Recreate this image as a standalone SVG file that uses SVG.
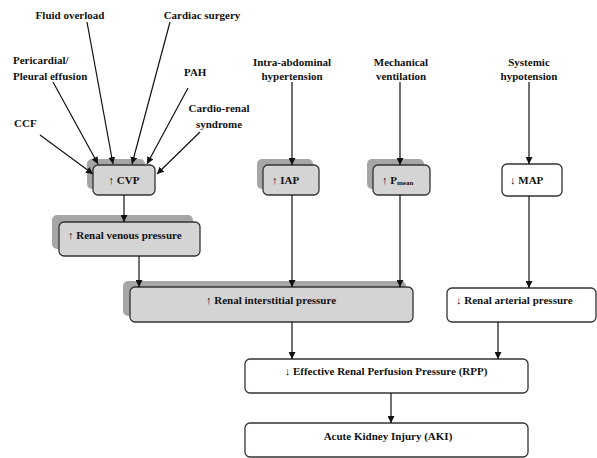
<svg xmlns="http://www.w3.org/2000/svg" width="597" height="458" viewBox="0 0 597 458">
<style>
text{font-family:"Liberation Serif","Times New Roman",serif;font-weight:bold;font-size:11px;fill:#111}
.sh{fill:#a6a6a6;stroke:none}
.g{fill:#d4d4d4;stroke:#333;stroke-width:1.3}
.w{fill:#fff;stroke:#333;stroke-width:1.3}
.c{stroke:#111;stroke-width:1.2;fill:none;marker-end:url(#ah)}
.m{text-anchor:middle}
</style>
<defs>
<marker id="ah" viewBox="0 0 10 10" refX="10" refY="5" markerWidth="7" markerHeight="7" markerUnits="userSpaceOnUse" orient="auto">
<path d="M0,0 L10,5 L0,10 z" fill="#111"/>
</marker>
</defs>
<rect width="597" height="458" fill="#fff"/>
<g id="labels">
<text class="m" x="70" y="19">Fluid overload</text>
<text class="m" x="202" y="19">Cardiac surgery</text>
<text x="13" y="64">Pericardial/</text>
<text x="13" y="80">Pleural effusion</text>
<text x="184" y="76">PAH</text>
<text class="m" x="219" y="112">Cardio-renal</text>
<text class="m" x="219" y="128">syndrome</text>
<text x="14" y="127">CCF</text>
<text class="m" x="292" y="66">Intra-abdominal</text>
<text class="m" x="292" y="80">hypertension</text>
<text class="m" x="401" y="66">Mechanical</text>
<text class="m" x="401" y="80">ventilation</text>
<text class="m" x="529" y="66">Systemic</text>
<text class="m" x="529" y="80">hypotension</text>
</g>
<g id="cvp">
<rect class="sh" x="87" y="159" width="58" height="30" rx="5"/>
<rect class="g" x="93" y="165" width="62" height="30" rx="5"/>
<text class="m" x="124" y="184">↑ CVP</text>
</g>
<g id="iap">
<rect class="sh" x="257" y="159" width="56" height="30" rx="5"/>
<rect class="g" x="263" y="165" width="56" height="30" rx="5"/>
<text x="272" y="184">↑ IAP</text>
</g>
<g id="pmean">
<rect class="sh" x="367" y="159" width="57" height="30" rx="5"/>
<rect class="g" x="373" y="165" width="57" height="30" rx="5"/>
<text x="382" y="184">↑ P<tspan font-size="7" dy="1">mean</tspan></text>
</g>
<g id="map">
<rect class="w" x="502" y="164" width="60" height="32" rx="5"/>
<text x="510" y="184">↓ MAP</text>
</g>
<g id="rvp">
<rect class="sh" x="52" y="215" width="141" height="34" rx="5"/>
<rect class="g" x="59" y="222" width="141" height="34" rx="5"/>
<text x="68" y="239">↑ Renal venous pressure</text>
</g>
<g id="rip">
<rect class="sh" x="123" y="281" width="283" height="35" rx="5"/>
<rect class="g" x="130" y="287" width="283" height="35" rx="5"/>
<text class="m" x="271" y="304">↑ Renal interstitial pressure</text>
</g>
<g id="rap">
<rect class="w" x="447" y="288" width="149" height="34" rx="5"/>
<text x="456" y="304">↓ Renal arterial pressure</text>
</g>
<g id="rpp">
<rect class="w" x="245" y="359" width="283" height="34" rx="5"/>
<text class="m" x="386" y="375">↓ Effective Renal Perfusion Pressure (RPP)</text>
</g>
<g id="aki">
<rect class="w" x="245" y="423" width="283" height="34" rx="5"/>
<text class="m" x="388" y="440">Acute Kidney Injury (AKI)</text>
</g>
<g id="connectors">
<line class="c" x1="40" y1="135" x2="93" y2="174"/>
<line class="c" x1="53" y1="82" x2="98" y2="164"/>
<line class="c" x1="87" y1="22" x2="113" y2="164"/>
<line class="c" x1="170" y1="22" x2="132" y2="164"/>
<line class="c" x1="188" y1="88" x2="147" y2="164"/>
<line class="c" x1="200" y1="132" x2="157" y2="174"/>
<line class="c" x1="292" y1="82" x2="292" y2="165"/>
<line class="c" x1="400" y1="82" x2="400" y2="165"/>
<line class="c" x1="529" y1="82" x2="529" y2="164"/>
<line class="c" x1="124" y1="195" x2="124" y2="222"/>
<line class="c" x1="139" y1="256" x2="139" y2="287"/>
<line class="c" x1="292" y1="195" x2="292" y2="287"/>
<line class="c" x1="400" y1="195" x2="400" y2="287"/>
<line class="c" x1="529" y1="196" x2="529" y2="288"/>
<line class="c" x1="292" y1="322" x2="292" y2="359"/>
<line class="c" x1="498" y1="322" x2="498" y2="359"/>
<line class="c" x1="391" y1="393" x2="391" y2="423"/>
</g>
</svg>
